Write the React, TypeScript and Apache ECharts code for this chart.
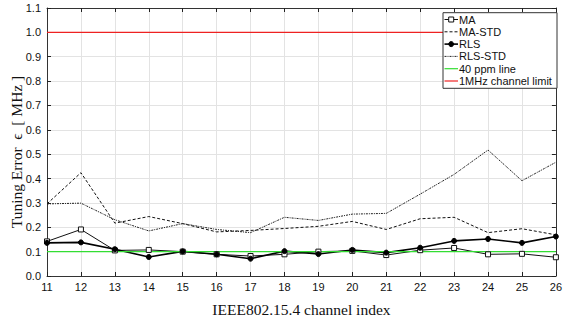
import React, { useEffect, useRef } from "react";
import * as echarts from "echarts";

const channels = [11, 12, 13, 14, 15, 16, 17, 18, 19, 20, 21, 22, 23, 24, 25, 26];
const maValues = [0.142, 0.191, 0.105, 0.107, 0.1, 0.089, 0.082, 0.089, 0.1, 0.103, 0.086, 0.106, 0.115, 0.089, 0.091, 0.077];
const maStdValues = [0.296, 0.424, 0.217, 0.244, 0.215, 0.181, 0.187, 0.195, 0.204, 0.224, 0.191, 0.235, 0.241, 0.178, 0.194, 0.169];
const rlsValues = [0.136, 0.138, 0.11, 0.078, 0.101, 0.089, 0.071, 0.102, 0.09, 0.107, 0.096, 0.116, 0.144, 0.152, 0.136, 0.162];
const rlsStdValues = [0.296, 0.299, 0.231, 0.185, 0.215, 0.191, 0.178, 0.241, 0.228, 0.254, 0.257, 0.336, 0.417, 0.517, 0.391, 0.467];
const ppmLine = 0.1;
const channelLimit = 1.0;
const legendNames = ["MA", "MA-STD", "RLS", "RLS-STD", "40 ppm line", "1MHz channel limit"];

const pairs = (vals: number[]) => channels.map((c, i) => [c, vals[i]]);
const flat = (v: number) => channels.map((c) => [c, v]);

const GREEN = "#33dd33";
const RED = "#ee2222";

export default function App() {
  const ref = useRef<HTMLDivElement>(null);
  useEffect(() => {
    if (!ref.current) return;
    const chart = echarts.init(ref.current, undefined, { renderer: "svg" });
    const sans = "Liberation Sans";
    const serif = "Liberation Serif";
    const axisCommon = {
      axisLine: { show: true, onZero: false, lineStyle: { color: "#333", width: 1 } },
      axisTick: { show: true, inside: true, length: 4, lineStyle: { color: "#222" } },
    };

    // legend drawn as graphic
    const lx = 443, ly = 12.7, lw = 114, lh = 75.6;
    const rowY = (i: number) => 19.5 + i * 12.3;
    const iconX0 = 444.5, iconX1 = 458, iconMid = 451.2, textX = 459;
    const lineStyles: any[] = [
      { stroke: "#111", lineWidth: 1 },
      { stroke: "#111", lineWidth: 1, lineDash: [3, 2] },
      { stroke: "#000", lineWidth: 1.6 },
      { stroke: "#222", lineWidth: 1, lineDash: [2, 1, 1, 1] },
      { stroke: GREEN, lineWidth: 1.2 },
      { stroke: RED, lineWidth: 1.2 },
    ];
    const legendEls: any[] = [
      {
        type: "rect",
        shape: { x: lx, y: ly, width: lw, height: lh },
        style: { fill: "#fff", stroke: "#333", lineWidth: 1 },
        z: 100,
      },
    ];
    legendNames.forEach((n, i) => {
      const y = rowY(i);
      legendEls.push({
        type: "line",
        shape: { x1: iconX0, y1: y, x2: iconX1, y2: y },
        style: lineStyles[i],
        z: 101,
      });
      legendEls.push({
        type: "text",
        x: textX,
        y: y,
        style: { text: n, fontFamily: sans, fontSize: 11, fill: "#111", verticalAlign: "middle", align: "left" },
        z: 101,
      });
    });
    legendEls.push({
      type: "rect",
      shape: { x: iconMid - 2.5, y: rowY(0) - 2.5, width: 5, height: 5 },
      style: { fill: "#fff", stroke: "#111", lineWidth: 1 },
      z: 102,
    });
    legendEls.push({
      type: "circle",
      shape: { cx: iconMid, cy: rowY(2), r: 2.5 },
      style: { fill: "#000", stroke: "#000" },
      z: 102,
    });

    chart.setOption({
      animation: false,
      backgroundColor: "#fff",
      grid: { left: 47, right: 2, top: 8, bottom: 35, containLabel: false },
      xAxis: [
        {
          type: "value",
          min: 11,
          max: 26,
          interval: 1,
          ...axisCommon,
          axisLabel: { color: "#111", fontFamily: sans, fontSize: 11, margin: 5 },
          splitLine: { show: true, lineStyle: { color: "#e3e3e3", width: 1 } },
          name: "IEEE802.15.4 channel index",
          nameLocation: "middle",
          nameGap: 25,
          nameTextStyle: { fontFamily: serif, fontSize: 15.5, color: "#111" },
        },
        {
          type: "value",
          min: 11,
          max: 26,
          interval: 1,
          position: "top",
          ...axisCommon,
          axisLabel: { show: false },
          splitLine: { show: false },
        },
      ],
      yAxis: [
        {
          type: "value",
          min: 0,
          max: 1.1,
          interval: 0.1,
          ...axisCommon,
          axisLabel: {
            color: "#111",
            fontFamily: sans,
            fontSize: 11,
            margin: 6,
            formatter: (v: number) => v.toFixed(1),
          },
          splitLine: { show: true, lineStyle: { color: "#e3e3e3", width: 1 } },
        },
        {
          type: "value",
          min: 0,
          max: 1.1,
          interval: 0.1,
          position: "right",
          ...axisCommon,
          axisLabel: { show: false },
          splitLine: { show: false },
        },
      ],
      graphic: [
        {
          type: "text",
          x: 16,
          y: 152,
          rotation: Math.PI / 2,
          style: {
            text: "Tuning Error  \u03f5  [ MHz ]",
            fontFamily: serif,
            fontSize: 15.5,
            fill: "#111",
            align: "center",
            verticalAlign: "middle",
          },
        },
        ...legendEls,
      ],
      series: [
        {
          name: "MA",
          type: "line",
          data: pairs(maValues),
          symbol: "rect",
          symbolSize: 5,
          itemStyle: { color: "#fff", borderColor: "#111", borderWidth: 1 },
          lineStyle: { color: "#111", width: 1 },
        },
        {
          name: "MA-STD",
          type: "line",
          data: pairs(maStdValues),
          symbol: "none",
          lineStyle: { color: "#111", width: 1, type: [3, 2] },
        },
        {
          name: "RLS",
          type: "line",
          data: pairs(rlsValues),
          symbol: "circle",
          symbolSize: 5,
          itemStyle: { color: "#000", borderColor: "#000", borderWidth: 1 },
          lineStyle: { color: "#000", width: 1.6 },
        },
        {
          name: "RLS-STD",
          type: "line",
          data: pairs(rlsStdValues),
          symbol: "none",
          lineStyle: { color: "#222", width: 1, type: [2, 1, 1, 1] },
        },
        {
          name: "40 ppm line",
          type: "line",
          data: flat(ppmLine),
          symbol: "none",
          lineStyle: { color: GREEN, width: 1.2 },
        },
        {
          name: "1MHz channel limit",
          type: "line",
          data: flat(channelLimit),
          symbol: "none",
          lineStyle: { color: RED, width: 1.2 },
        },
      ],
    });
    return () => chart.dispose();
  }, []);
  return (
    <div
      ref={ref}
      style={{ position: "fixed", left: 0, top: 0, width: 565, height: 322 }}
    />
  );
}
